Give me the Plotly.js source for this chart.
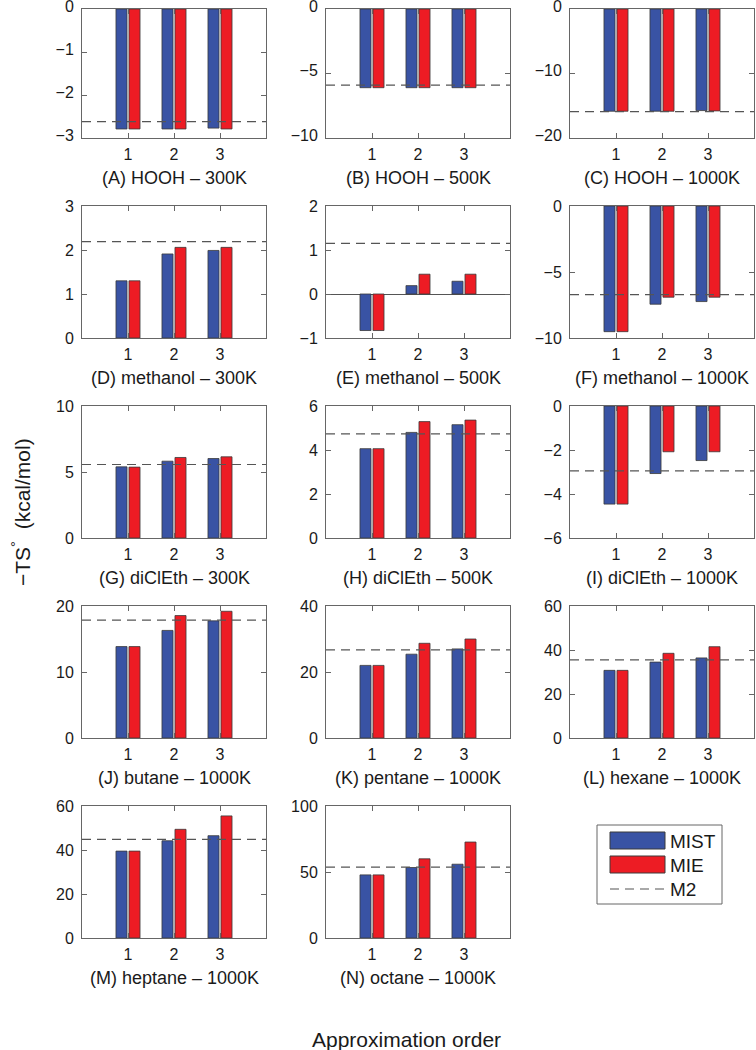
<!DOCTYPE html>
<html><head><meta charset="utf-8">
<script src="https://cdn.plot.ly/plotly-3.0.1.min.js"></script>
<style>html,body{margin:0;padding:0;background:#fff}#chart{width:756px;height:1050px}</style>
</head><body><div id="chart"></div>
<script>
// ---------- data ----------
const panelLabels = [
  "(A) HOOH – 300K", "(B) HOOH – 500K", "(C) HOOH – 1000K",
  "(D) methanol – 300K", "(E) methanol – 500K", "(F) methanol – 1000K",
  "(G) diClEth – 300K", "(H) diClEth – 500K", "(I) diClEth – 1000K",
  "(J) butane – 1000K", "(K) pentane – 1000K", "(L) hexane – 1000K",
  "(M) heptane – 1000K", "(N) octane – 1000K"
];
const orders = [1, 2, 3];
const mist = [
  [-2.79, -2.79, -2.77], [-6.1, -6.1, -6.1], [-15.85, -15.85, -15.75],
  [1.30, 1.91, 1.99], [-0.83, 0.19, 0.29], [-9.52, -7.44, -7.24],
  [5.39, 5.82, 6.02], [4.06, 4.80, 5.15], [-4.46, -3.07, -2.48],
  [13.85, 16.3, 17.75], [22.0, 25.4, 27.0], [30.75, 34.5, 36.4],
  [39.5, 44.2, 46.5], [47.8, 53.4, 55.9]
];
const mie = [
  [-2.79, -2.79, -2.79], [-6.1, -6.1, -6.1], [-15.85, -15.85, -15.8],
  [1.30, 2.06, 2.06], [-0.83, 0.45, 0.45], [-9.52, -6.91, -6.91],
  [5.37, 6.10, 6.15], [4.06, 5.29, 5.36], [-4.46, -2.08, -2.08],
  [13.85, 18.55, 19.2], [22.0, 28.7, 30.0], [30.75, 38.5, 41.5],
  [39.5, 49.4, 55.5], [47.8, 60.0, 72.7]
];
const m2 = [-2.62, -5.9, -15.9, 2.19, 1.15, -6.71, 5.57, 4.73, -2.95, 17.85, 26.7, 35.5, 44.8, 53.7];
const yRanges = [
  [-3, 0], [-10, 0], [-20, 0], [0, 3], [-1, 2], [-10, 0], [0, 10], [0, 6], [-6, 0],
  [0, 20], [0, 40], [0, 60], [0, 60], [0, 100]
];
const yDticks = [1, 5, 10, 1, 1, 5, 5, 2, 2, 10, 20, 20, 20, 50];
const xRange = [0, 4];
const seriesNames = ["MIST", "MIE", "M2"];
const xTitle = "Approximation order";
const yTitle = "−TS<sup>°</sup>  (kcal/mol)";

// ---------- style / layout ----------
const W = 756, H = 1050;
const colLeft = [82, 326, 570], axW = 184;
const rowTop = [9, 206, 406, 606, 806], rowBottom = [138, 338, 538, 738, 938];
const BLUE = "#3953a4", RED = "#ed1c24", EDGE = "#3a3a3a", AXC = "#666666";
const FONT = "Liberation Sans, Arial, Helvetica, sans-serif";
const px = x => x / W, py = y => 1 - y / H;

function tickList(rng, d) {
  const out = [];
  const n = Math.round((rng[1] - rng[0]) / d);
  for (let k = 0; k <= n; k++) out.push(rng[0] + k * d);
  return out;
}
const fmt = v => (v < 0 ? "−" + Math.abs(v) : String(v));

const traces = [];
const layout = {
  width: W, height: H,
  margin: {l: 0, r: 0, t: 0, b: 0},
  paper_bgcolor: "#fff", plot_bgcolor: "#fff",
  font: {family: FONT, color: "#1a1a1a", size: 16},
  barmode: "group", bargap: 0.435, bargroupgap: 0.15,
  showlegend: false,
  annotations: [], shapes: []
};

panelLabels.forEach((lab, i) => {
  const n = i + 1, sfx = n === 1 ? "" : String(n);
  const r = Math.floor(i / 3), c = i % 3;
  const l = colLeft[c], t = rowTop[r], b = rowBottom[r];
  traces.push({type: "bar", name: seriesNames[0], x: orders, y: mist[i],
    xaxis: "x" + sfx, yaxis: "y" + sfx,
    marker: {color: BLUE, line: {color: EDGE, width: 0.8}}, hoverinfo: "y"});
  traces.push({type: "bar", name: seriesNames[1], x: orders, y: mie[i],
    xaxis: "x" + sfx, yaxis: "y" + sfx,
    marker: {color: RED, line: {color: EDGE, width: 0.8}}, hoverinfo: "y"});
  traces.push({type: "scatter", mode: "lines", name: seriesNames[2],
    x: xRange, y: [m2[i], m2[i]], xaxis: "x" + sfx, yaxis: "y" + sfx,
    line: {color: "#555555", width: 1.2, dash: "9px,6px"}, hoverinfo: "y"});

  const rng = yRanges[i];
  const tv = tickList(rng, yDticks[i]);
  const zeroInside = rng[0] < 0 && rng[1] > 0;
  layout["xaxis" + sfx] = {
    domain: [px(l), px(l + axW)], anchor: "y" + sfx, range: xRange,
    tickvals: orders, ticks: "inside", ticklen: 5, tickcolor: AXC,
    showline: true, linecolor: AXC, linewidth: 1, mirror: "ticks",
    showgrid: false, zeroline: false, fixedrange: true,
    tickfont: {size: 16, family: FONT}, ticklabelstandoff: 2,
    ticklabeloverflow: "allow"
  };
  layout["yaxis" + sfx] = {
    domain: [py(b), py(t)], anchor: "x" + sfx, range: rng,
    tickmode: "array", tickvals: tv, ticktext: tv.map(fmt),
    ticks: "inside", ticklen: 5, tickcolor: AXC,
    showline: true, linecolor: AXC, linewidth: 1, mirror: "ticks",
    showgrid: false, zeroline: zeroInside, zerolinecolor: "#555555", zerolinewidth: 1,
    fixedrange: true, tickfont: {size: 16, family: FONT}, ticklabelstandoff: 4,
    ticklabelshift: r === 0 ? -3 : 0,
    ticklabeloverflow: "allow"
  };
  layout.annotations.push({text: lab, xref: "paper", yref: "paper",
    x: px(l + axW / 2), y: py(b + 40), xanchor: "center", yanchor: "middle",
    showarrow: false, font: {size: 18, family: FONT}});
});

// axis titles
layout.annotations.push({text: xTitle, xref: "paper", yref: "paper",
  x: px(406), y: py(1039), xanchor: "center", yanchor: "middle",
  showarrow: false, font: {size: 21, family: FONT}});
layout.annotations.push({text: yTitle, xref: "paper", yref: "paper",
  x: px(21), y: py(512), xanchor: "center", yanchor: "middle", textangle: -90,
  showarrow: false, font: {size: 21, family: FONT}});

// custom legend (wide swatches as in the original)
layout.shapes.push({type: "rect", xref: "paper", yref: "paper",
  x0: px(597), x1: px(722), y0: py(904), y1: py(825),
  line: {color: AXC, width: 1}, fillcolor: "#fff", layer: "below"});
layout.shapes.push({type: "rect", xref: "paper", yref: "paper",
  x0: px(610), x1: px(665), y0: py(849), y1: py(832),
  line: {color: EDGE, width: 1}, fillcolor: BLUE});
layout.shapes.push({type: "rect", xref: "paper", yref: "paper",
  x0: px(610), x1: px(665), y0: py(873), y1: py(856),
  line: {color: EDGE, width: 1}, fillcolor: RED});
layout.shapes.push({type: "line", xref: "paper", yref: "paper",
  x0: px(610), x1: px(665), y0: py(889), y1: py(889),
  line: {color: "#555555", width: 1.2, dash: "9px,6px"}});
[[seriesNames[0], 841], [seriesNames[1], 865], [seriesNames[2], 889]].forEach(([nm, y]) => {
  layout.annotations.push({text: nm, xref: "paper", yref: "paper",
    x: px(668), y: py(y), xanchor: "left", yanchor: "middle",
    showarrow: false, font: {size: 19, family: FONT}});
});

Plotly.newPlot("chart", traces, layout, {staticPlot: true, displayModeBar: false});
</script>
</body></html>
